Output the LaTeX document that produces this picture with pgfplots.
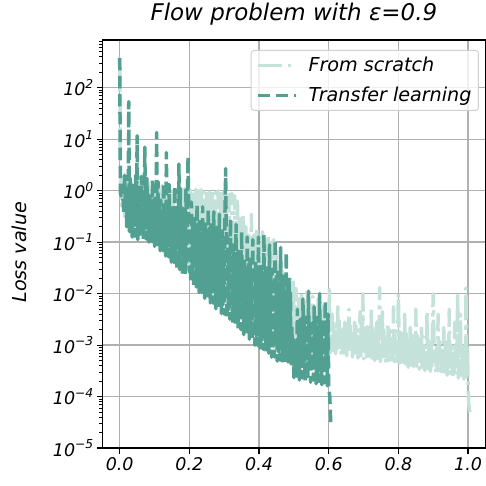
\documentclass[border=0pt]{standalone}
\usepackage{pgfplots}
\pgfplotsset{compat=1.18}
\usepackage{fontspec}
\setmainfont{DejaVu Sans}
\definecolor{lightc}{HTML}{C4E2DA}
\definecolor{darkc}{HTML}{52A092}
\definecolor{gridc}{HTML}{B0B0B0}
\newcommand\pw[1]{10\raisebox{0.42em}{\fontsize{12.3bp}{13bp}\selectfont #1}}
\begin{document}
\begin{tikzpicture}
\useasboundingbox (-102.5bp,-37bp) rectangle (384.5bp,449bp);
\begin{axis}[
 at={(0,0)}, anchor=south west,
 scale only axis, width=384bp, height=409bp,
 ymode=log, xmin=-0.05, xmax=1.05, ymin=1e-5, ymax=850,
 axis line style={line width=1.2bp},
 grid=major, major grid style={gridc, line width=1.4bp},
 xtick={0,0.2,0.4,0.6,0.8,1}, xticklabels={0.0,0.2,0.4,0.6,0.8,1.0},
 ytick={1e-5,1e-4,1e-3,1e-2,1e-1,1,10,100},
 yticklabels={\pw{−5},\pw{−4},\pw{−3},\pw{−2},\pw{−1},\pw{0},\pw{1},\pw{2}},
 minor ytick={2e-5,3e-5,4e-5,5e-5,6e-5,7e-5,8e-5,9e-5,2e-4,3e-4,4e-4,5e-4,6e-4,7e-4,8e-4,9e-4,2e-3,3e-3,4e-3,5e-3,6e-3,7e-3,8e-3,9e-3,2e-2,3e-2,4e-2,5e-2,6e-2,7e-2,8e-2,9e-2,0.2,0.3,0.4,0.5,0.6,0.7,0.8,0.9,2,3,4,5,6,7,8,9,20,30,40,50,60,70,80,90,200,300,400,500,600,700,800},
 tick align=outside, xtick pos=bottom, ytick pos=left,
 major tick length=5.5bp, minor tick length=3.2bp,
 every tick/.style={black, line width=1.2bp}, every minor tick/.style={black, line width=0.9bp},
 tick label style={font=\fontsize{17.5bp}{20bp}\selectfont\itshape},
 title={Flow problem with ε=0.9},
 title style={font=\fontsize{23bp}{26bp}\selectfont\itshape, at={(axis description cs:0.5,1)}, anchor=base, yshift=13bp},
 ylabel={Loss value},
 ylabel style={font=\fontsize{19.2bp}{22bp}\selectfont\itshape, at={(axis description cs:-0.2175,0.48)}, anchor=center},
 legend style={at={(axis description cs:0.983,0.9756)}, anchor=north east, draw=gridc!60, rounded corners=3bp, line width=1bp, font=\fontsize{19.2bp}{22bp}\selectfont\itshape, fill=white, fill opacity=0.8, text opacity=1, inner xsep=5bp, inner ysep=5bp, row sep=10bp, column sep=9bp, cells={anchor=west}},
 legend image code/.code={\draw[#1] (0bp,0bp) -- (38bp,0bp);},
 legend cell align=left,
]
\addplot[lightc, line width=3.5bp, line join=round, dash pattern=on 24bp off 6bp on 3.5bp off 6bp] coordinates {
(0,380)(0.002,2.0)(0.006,0.5)(0.010,1.8)(0.014,0.32)(0.018,1.6)(0.022,0.25)(0.026,1.26)(0.030,0.2)(0.034,1.4)(0.038,0.18)(0.042,1.0)(0.046,0.18)(0.050,1.6)(0.054,0.16)(0.058,1.1)(0.062,0.16)(0.066,1.26)(0.070,0.14)(0.074,0.9)(0.078,0.14)(0.082,1.4)(0.086,0.126)(0.090,1.0)(0.094,0.126)(0.098,1.26)(0.102,0.112)(0.106,1.1)(0.110,0.1)(0.114,1.0)(0.118,0.09)(0.122,1.26)(0.126,0.08)(0.130,1.0)(0.134,0.07)(0.138,1.1)(0.142,0.063)(0.146,0.9)(0.150,0.056)(0.154,1.1)(0.158,0.05)(0.162,1.0)(0.166,0.045)(0.170,1.1)(0.174,0.04)(0.178,1.0)(0.182,0.035)(0.186,1.1)(0.190,0.032)(0.194,1.0)(0.198,0.028)(0.202,1.05)(0.206,0.025)(0.210,1.0)(0.214,0.022)(0.218,1.07)(0.222,0.02)(0.226,1.0)(0.230,0.018)(0.234,1.05)(0.238,0.016)(0.242,0.95)(0.246,0.014)(0.250,1.0)(0.254,0.0126)(0.258,0.95)(0.262,0.0112)(0.266,1.0)(0.270,0.01)(0.274,0.93)(0.278,0.0089)(0.282,1.0)(0.286,0.0079)(0.290,0.89)(0.294,0.0071)(0.298,0.95)(0.302,0.0063)(0.306,0.89)(0.310,0.0056)(0.314,0.85)(0.318,0.005)(0.322,0.89)(0.326,0.0045)(0.330,0.8)(0.334,0.004)(0.338,0.63)(0.342,0.0035)(0.346,0.32)(0.350,0.0032)(0.354,0.35)(0.358,0.0028)(0.362,0.2)(0.366,0.0025)(0.370,0.16)(0.374,0.0022)(0.378,0.35)(0.382,0.002)(0.386,0.14)(0.390,0.0018)(0.394,0.18)(0.398,0.0016)(0.402,0.126)(0.406,0.0014)(0.410,0.16)(0.414,0.00126)(0.418,0.112)(0.422,0.00112)(0.426,0.14)(0.430,0.001)(0.434,0.1)(0.438,0.0009)(0.442,0.112)(0.446,0.0008)(0.450,0.08)(0.454,0.00076)(0.458,0.05)(0.462,0.0007)(0.466,0.028)(0.470,0.00066)(0.474,0.025)(0.478,0.00063)(0.482,0.02)(0.486,0.00063)(0.490,0.022)(0.494,0.0006)(0.498,0.018)(0.502,0.0006)(0.506,0.0126)(0.510,0.00058)(0.514,0.008)(0.518,0.00058)(0.522,0.0112)(0.526,0.00056)(0.530,0.0063)(0.534,0.00055)(0.538,0.012)(0.542,0.00054)(0.546,0.005)(0.550,0.00052)(0.554,0.0089)(0.558,0.0005)(0.562,0.0045)(0.566,0.0005)(0.570,0.008)(0.574,0.00048)(0.578,0.004)(0.582,0.00047)(0.586,0.0063)(0.590,0.00046)(0.594,0.0032)(0.598,0.00045)(0.602,0.012)
(0.604,0.0007)(0.606,0.0022)(0.608,0.00087)(0.610,0.004)(0.612,0.00078)(0.614,0.003)(0.616,0.00107)(0.618,0.0017)(0.620,0.00068)(0.622,0.00214)(0.624,0.00083)(0.626,0.0056)(0.628,0.00074)(0.630,0.003)(0.632,0.00105)(0.634,0.00166)(0.636,0.00065)(0.638,0.002)(0.640,0.00079)(0.642,0.0025)(0.644,0.0007)(0.646,0.0028)(0.648,0.001)(0.650,0.0016)(0.652,0.00062)(0.654,0.00195)(0.656,0.00078)(0.658,0.005)(0.660,0.00068)(0.662,0.0027)(0.664,0.00095)(0.666,0.0015)(0.668,0.00059)(0.670,0.00186)(0.672,0.00074)(0.674,0.0028)(0.676,0.00065)(0.678,0.0026)(0.680,0.00091)(0.682,0.00145)(0.684,0.00056)(0.686,0.00178)(0.688,0.0007)(0.690,0.0045)(0.692,0.00062)(0.694,0.00245)(0.696,0.00087)(0.698,0.01)(0.700,0.00054)(0.702,0.0017)(0.704,0.00068)(0.706,0.0025)(0.708,0.00059)(0.710,0.0023)(0.712,0.00083)(0.714,0.0013)(0.716,0.00051)(0.718,0.0016)(0.720,0.00065)(0.722,0.005)(0.724,0.00056)(0.726,0.0022)(0.728,0.00079)(0.730,0.00126)(0.732,0.0005)(0.734,0.00158)(0.736,0.00063)(0.738,0.0028)(0.740,0.00055)(0.742,0.0022)(0.744,0.00078)(0.746,0.013)(0.748,0.00048)(0.750,0.0015)(0.752,0.0006)(0.754,0.0045)(0.756,0.00051)(0.758,0.002)(0.760,0.00072)(0.762,0.00115)(0.764,0.00045)(0.766,0.0014)(0.768,0.00056)(0.770,0.0025)(0.772,0.0005)(0.774,0.002)(0.776,0.0007)(0.778,0.0011)(0.780,0.00044)(0.782,0.00138)(0.784,0.00055)(0.786,0.0056)(0.788,0.00048)(0.790,0.0019)(0.792,0.00068)(0.794,0.00105)(0.796,0.00042)(0.798,0.0013)(0.800,0.01)(0.802,0.001)(0.804,0.00045)(0.806,0.0018)(0.808,0.00063)(0.810,0.001)(0.812,0.00039)(0.814,0.00123)(0.816,0.00049)(0.818,0.004)(0.820,0.00043)(0.822,0.0017)(0.824,0.0006)(0.826,0.00095)(0.828,0.00037)(0.830,0.00117)(0.832,0.00047)(0.834,0.0022)(0.836,0.00041)(0.838,0.0016)(0.840,0.00058)(0.842,0.00091)(0.844,0.00035)(0.846,0.0011)(0.848,0.00045)(0.850,0.005)(0.852,0.00039)(0.854,0.00155)(0.856,0.00055)(0.858,0.00087)(0.860,0.00034)(0.862,0.00107)(0.864,0.00043)(0.866,0.0025)(0.868,0.00037)(0.870,0.00148)(0.872,0.00052)(0.874,0.00083)(0.876,0.00032)(0.878,0.001)(0.880,0.00041)(0.882,0.0045)(0.884,0.00035)(0.886,0.0014)(0.888,0.0005)(0.890,0.00079)(0.892,0.00031)(0.894,0.00098)(0.896,0.00039)(0.898,0.0025)(0.900,0.01)(0.902,0.0013)(0.904,0.00047)(0.906,0.00074)(0.908,0.00029)(0.910,0.00091)(0.912,0.00036)(0.914,0.004)(0.916,0.00032)(0.918,0.00126)(0.920,0.00044)(0.922,0.00069)(0.924,0.00028)(0.926,0.00087)(0.928,0.00035)(0.930,0.0022)(0.932,0.0003)(0.934,0.0012)(0.936,0.00042)(0.938,0.00066)(0.940,0.00026)(0.942,0.00081)(0.944,0.00032)(0.946,0.005)(0.948,0.00028)(0.950,0.00112)(0.952,0.0004)(0.954,0.00063)(0.956,0.00025)(0.958,0.00079)(0.960,0.00031)(0.962,0.0028)(0.964,0.00027)(0.966,0.00107)(0.968,0.00038)(0.970,0.01)(0.972,0.00023)(0.974,0.00074)(0.976,0.0003)(0.978,0.004)(0.980,0.00026)(0.982,0.001)(0.984,0.00035)(0.986,0.00056)(0.988,0.00022)(0.990,0.0007)(0.992,0.00028)(0.994,0.013)(0.996,0.00024)(0.998,0.00095)(1.000,0.00021)(1.002,0.00007)(1.005,0.00005)
};
\addlegendentry{From scratch}
\addplot[darkc, line width=3.5bp, line join=round, dash pattern=on 12.5bp off 5.5bp] coordinates {
(0,380)(0.002,0.9)(0.004,0.79)(0.006,1.26)(0.008,0.74)(0.010,0.63)(0.012,0.35)(0.014,2.0)(0.016,0.5)(0.018,1.0)(0.020,0.2)(0.022,1.26)(0.024,0.27)(0.026,54)(0.028,0.16)(0.030,2.0)(0.032,0.26)(0.034,1.0)(0.036,0.126)(0.038,1.26)(0.040,0.195)(0.042,0.63)(0.044,0.13)(0.046,2.0)(0.048,0.23)(0.050,11.7)
(0.052,0.112)(0.054,1.0)(0.056,0.178)(0.058,0.48)(0.060,0.123)(0.062,1.9)(0.064,0.21)(0.066,0.72)(0.068,0.105)(0.070,0.89)(0.072,7.0)(0.074,0.43)(0.076,0.115)(0.078,1.74)(0.080,0.2)(0.082,0.65)(0.084,0.1)(0.086,0.8)(0.088,0.155)(0.090,0.39)(0.092,0.102)(0.094,1.6)(0.096,0.174)(0.098,0.59)(0.100,0.083)(0.102,0.72)(0.104,0.126)(0.106,13.5)(0.108,0.083)(0.110,1.5)(0.112,0.141)(0.114,0.54)(0.116,0.068)(0.118,0.66)(0.120,0.1)(0.122,0.32)(0.124,0.068)(0.126,1.41)(0.128,0.112)(0.130,0.49)(0.132,0.054)(0.134,5.5)(0.136,0.081)(0.138,0.28)(0.140,0.052)(0.142,1.32)(0.144,0.087)(0.146,0.44)(0.148,0.041)(0.150,0.54)(0.152,0.06)(0.154,0.26)(0.156,0.04)(0.158,1.2)(0.160,0.066)(0.162,0.4)(0.164,0.031)(0.166,0.49)(0.168,0.046)(0.170,3.3)(0.172,0.0295)(0.174,1.12)(0.176,0.049)(0.178,0.35)(0.180,0.023)(0.182,0.45)(0.184,0.034)(0.186,0.22)(0.188,0.022)(0.190,1.05)(0.192,0.036)(0.194,0.33)(0.196,4.6)(0.198,0.41)(0.200,0.026)
(0.202,0.195)(0.204,0.017)(0.206,0.6)(0.208,0.029)(0.210,0.29)(0.212,0.0135)(0.214,0.35)(0.216,0.0204)(0.218,0.17)(0.220,0.0135)(0.222,0.54)(0.224,0.0224)(0.226,0.25)(0.228,0.0105)(0.230,0.3)(0.232,0.0158)(0.234,0.145)(0.236,0.0105)(0.238,0.49)(0.240,0.0178)(0.242,0.21)(0.244,0.0081)(0.246,0.26)(0.248,0.0123)(0.250,0.126)(0.252,0.0083)(0.254,0.44)(0.256,0.0138)(0.258,0.19)(0.260,0.0066)(0.262,0.22)(0.264,0.0098)(0.266,0.11)(0.268,0.0065)(0.270,0.39)(0.272,0.011)(0.274,0.16)(0.276,0.0051)(0.278,0.195)(0.280,0.0076)(0.282,0.093)(0.284,0.0051)(0.286,0.35)(0.288,0.0085)(0.290,0.138)(0.292,0.0041)(0.294,0.166)(0.296,0.006)(0.298,0.081)(0.300,0.004)(0.302,0.32)(0.304,2.7)(0.306,0.12)
(0.308,0.0032)(0.310,0.126)(0.312,0.0048)(0.314,0.063)(0.316,0.0032)(0.318,0.28)(0.320,0.0054)(0.322,0.089)(0.324,0.0026)(0.326,0.089)(0.328,0.0038)(0.330,0.045)(0.332,0.0026)(0.334,0.22)(0.336,0.0043)(0.338,0.063)(0.340,0.002)(0.342,0.066)(0.344,0.0031)(0.346,0.032)(0.348,0.002)(0.350,0.16)
(0.352,0.0035)(0.354,0.04)(0.356,0.0016)(0.358,0.05)(0.360,0.0024)(0.362,0.025)(0.364,0.0016)(0.366,0.126)(0.368,0.0027)(0.370,0.038)(0.372,0.0013)(0.374,0.047)(0.376,0.0019)(0.378,0.023)(0.380,0.00126)(0.382,0.112)(0.384,0.0021)(0.386,0.035)(0.388,0.001)(0.390,0.043)(0.392,0.0015)(0.394,0.021)(0.396,0.00098)(0.398,0.126)(0.400,0.00166)(0.402,0.032)(0.404,0.00079)(0.406,0.038)(0.408,0.00123)(0.410,0.019)(0.412,0.00083)(0.414,0.141)(0.416,0.0014)(0.418,0.028)(0.420,0.00068)(0.422,0.034)(0.424,0.001)(0.426,0.017)(0.428,0.0007)(0.430,0.089)(0.432,0.0012)(0.434,0.025)(0.436,0.00058)(0.438,0.03)(0.440,0.00087)(0.442,0.015)(0.444,0.00059)(0.446,0.112)(0.448,0.001)(0.450,0.022)(0.452,0.00049)(0.454,0.026)(0.456,0.00074)(0.458,0.013)(0.460,0.00051)(0.462,0.079)(0.464,0.00089)(0.466,0.02)(0.468,0.00044)(0.470,0.024)(0.472,0.00068)(0.474,0.0117)(0.476,0.00047)(0.478,0.063)(0.480,0.00081)(0.482,0.018)(0.484,0.0004)(0.486,0.021)(0.488,0.00062)(0.490,0.0105)
(0.492,0.00043)(0.494,0.0025)(0.496,0.00048)(0.498,0.001)(0.500,0.000234)(0.502,0.00126)(0.504,0.00036)(0.506,0.00079)(0.508,0.00025)
(0.510,0.005)(0.512,0.00044)(0.514,0.0025)(0.516,0.00021)(0.518,0.0032)(0.520,0.00033)(0.522,0.0016)(0.524,0.00023)(0.526,0.0079)(0.528,0.00041)(0.530,0.0025)(0.532,0.0002)(0.534,0.0035)(0.536,0.00032)(0.538,0.0016)(0.540,0.00022)(0.542,0.0112)(0.544,0.00039)(0.546,0.0025)(0.548,0.00019)(0.550,0.0032)(0.552,0.0003)(0.554,0.0016)(0.556,0.00021)(0.558,0.0056)(0.560,0.00036)(0.562,0.0025)(0.564,0.000178)(0.566,0.0035)(0.568,0.00028)(0.570,0.0016)(0.572,0.000195)(0.574,0.01)(0.576,0.00035)(0.578,0.0025)(0.580,0.00017)(0.582,0.0032)(0.584,0.00027)(0.586,0.0014)(0.588,0.000186)(0.590,0.0071)(0.592,0.00033)(0.594,0.0025)(0.596,0.000162)(0.598,0.004)(0.600,0.000158)(0.603,0.0001)(0.606,0.000028)
};
\addlegendentry{Transfer learning}
\end{axis}
\end{tikzpicture}
\end{document}
